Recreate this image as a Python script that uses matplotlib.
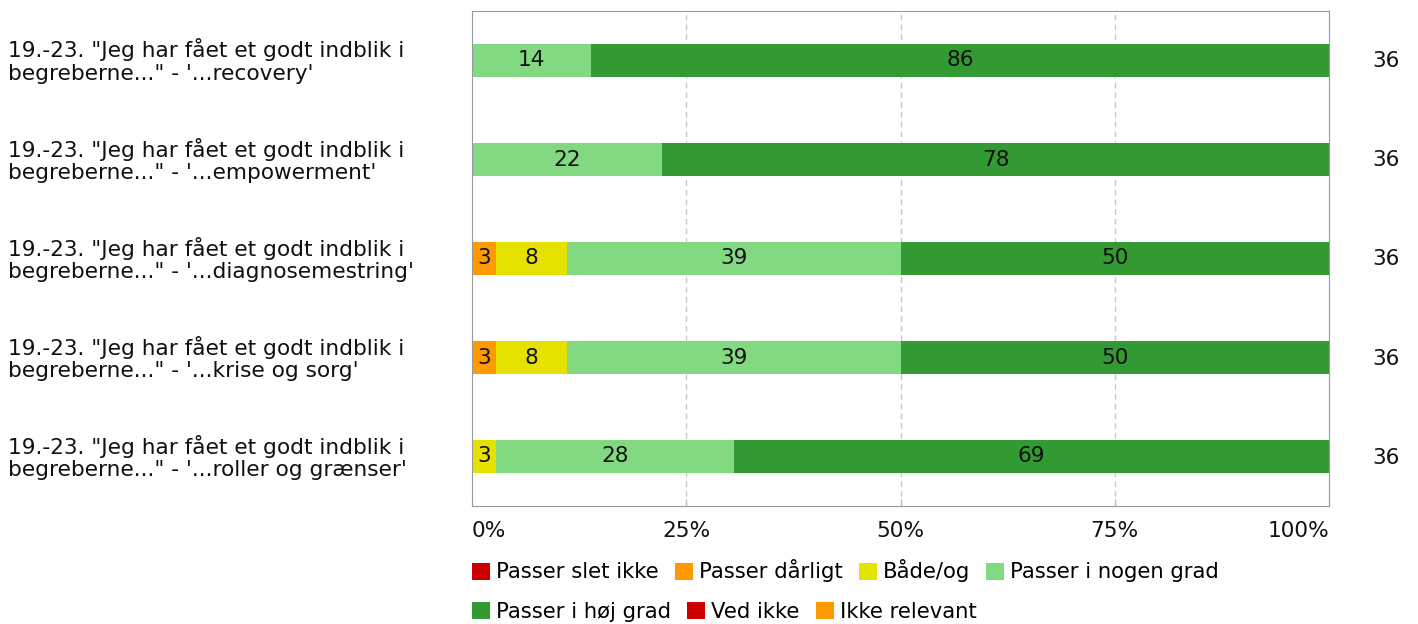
import numpy as np
import matplotlib.pyplot as plt
from matplotlib.patches import Patch

plt.rcParams['font.family'] = ['DejaVu Sans']

questions = ['19.-23. "Jeg har fået et godt indblik i\nbegreberne..." - \'...recovery\'',
             '19.-23. "Jeg har fået et godt indblik i\nbegreberne..." - \'...empowerment\'',
             '19.-23. "Jeg har fået et godt indblik i\nbegreberne..." - \'...diagnosemestring\'',
             '19.-23. "Jeg har fået et godt indblik i\nbegreberne..." - \'...krise og sorg\'',
             '19.-23. "Jeg har fået et godt indblik i\nbegreberne..." - \'...roller og grænser\'']
categories = ['Passer slet ikke', 'Passer dårligt', 'Både/og', 'Passer i nogen grad',
              'Passer i høj grad', 'Ved ikke', 'Ikke relevant']
colors = ['#CC0000', '#FF9900', '#E6E200', '#82D982', '#339933', '#CC0000', '#FF9900']

# percent per category, one list per question
slet_ikke = [0, 0, 0, 0, 0]
daarligt = [0, 0, 2.8, 2.8, 0]
baade_og = [0, 0, 8.3, 8.3, 2.8]
nogen_grad = [13.9, 22.2, 38.9, 38.9, 27.8]
hoej_grad = [86.1, 77.8, 50.0, 50.0, 69.4]
ved_ikke = [0, 0, 0, 0, 0]
ikke_relevant = [0, 0, 0, 0, 0]
n_answers = [36, 36, 36, 36, 36]

series = [slet_ikke, daarligt, baade_og, nogen_grad, hoej_grad, ved_ikke, ikke_relevant]

FS = 15.6

fig = plt.figure(figsize=(14.18, 6.24), dpi=100)
ax = fig.add_axes([472/1418, 1-506/624, (1329-472)/1418, (506-11)/624])

y = np.arange(len(questions))
left = np.zeros(len(questions))
for vals, col in zip(series, colors):
    vals = np.array(vals, dtype=float)
    bars = ax.barh(y, vals, left=left, height=0.33, color=col, edgecolor='none', zorder=2)
    for b, v in zip(bars, vals):
        if v > 0:
            ax.text(b.get_x() + b.get_width()/2, b.get_y() + b.get_height()/2,
                    '%d' % round(v), ha='center', va='center', fontsize=FS, color='#111111', zorder=3)
    left += vals

ax.set_xlim(0, 100)
ax.set_ylim(4.5, -0.5)
ax.set_yticks([])
ax.set_xticks([0, 25, 50, 75, 100])
ax.set_xticklabels([])
ax.tick_params(axis='x', direction='in', length=5, color='#bbbbbb')
for xv in [25, 50, 75]:
    ax.axvline(xv, color='#c8c8c8', linestyle=(0, (4, 3)), linewidth=1, zorder=1)
for s in ax.spines.values():
    s.set_color('#999999')

# tick labels
tl = ['0%', '25%', '50%', '75%', '100%']
for xv, t in zip([0, 25, 50, 75, 100], tl):
    ha = 'left' if xv == 0 else ('right' if xv == 100 else 'center')
    ax.text(xv, 4.5 + 0.25, t, ha=ha, va='center', fontsize=FS, color='#111111', clip_on=False)

# question labels and n
for i, q in enumerate(questions):
    fig.text(8/1418, 1 - (61 + i*99.2)/624, q, ha='left', va='center', fontsize=FS,
             color='#111111', linespacing=1.13)
    fig.text(1386/1418, 1 - (61 + i*99.2)/624, str(n_answers[i]), ha='center', va='center',
             fontsize=FS, color='#111111')

# legend in two rows
handles = [Patch(facecolor=c, edgecolor='none') for c in colors]
rows = [(0, 4, 571), (4, 7, 612)]
for a, b, yy in rows:
    fig.legend(handles[a:b], categories[a:b], loc='center left', bbox_to_anchor=(472/1418, 1 - yy/624),
               ncol=b - a, frameon=False, fontsize=15.2, handlelength=0.85, handleheight=0.85,
               handletextpad=0.3, columnspacing=0.75, borderpad=0, borderaxespad=0)

fig.savefig('out.png', dpi=100)
